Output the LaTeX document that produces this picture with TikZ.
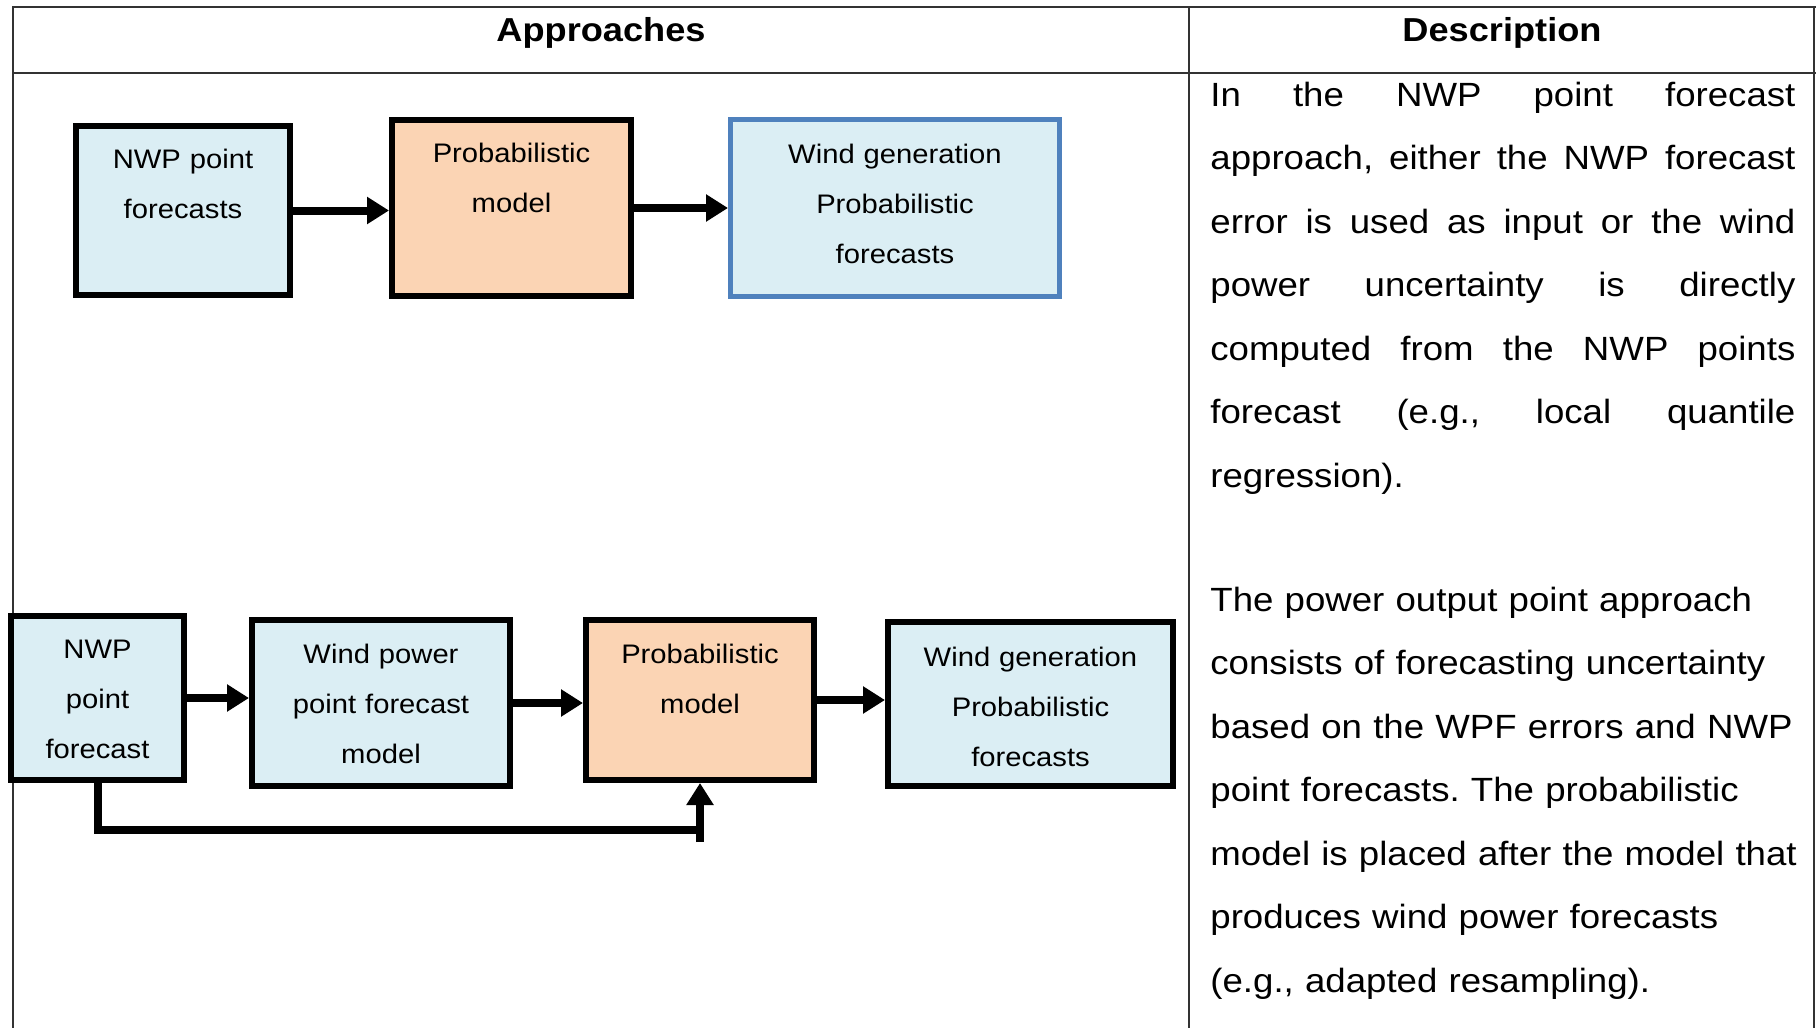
\documentclass[tikz,border=0pt]{standalone}
\usepackage{fontspec}
\setmainfont[FakeStretch=1.09]{Liberation Sans}
\usepackage{tikz}
\usetikzlibrary{arrows.meta,positioning}
\definecolor{boxblue}{HTML}{DBEEF4}
\definecolor{boxpeach}{HTML}{FBD4B4}
\definecolor{edgeblue}{HTML}{4F81BD}

\begin{document}
\begin{tikzpicture}[x=0.5pt,y=-0.5pt,
    grid/.style={line width=1pt,black!80},
    blk/.style={draw,line width=3pt,inner sep=0pt},
    lbl/.style={inner sep=0pt,anchor=base,text width=160pt,align=center,font=\fontsize{13.4}{25}\selectfont},
    head/.style={inner sep=0pt,anchor=base,font=\fontsize{16.6}{20}\selectfont\bfseries},
    desc/.style={inner sep=0pt,anchor=base west,text width=292.5pt,font=\fontsize{16.8}{31.75}\selectfont\frenchspacing},
    link/.style={line width=4pt},
    flow/.style={line width=4pt,-{Triangle[length=11pt,width=13pt]}}]
\useasboundingbox (0,0) rectangle (1816,1028);

    % table frame
    \draw[grid] (13,1028) -- (13,7) -- (1816,7);
    \draw[grid] (13,73) -- (1816,73);
    \draw[grid] (1189,7) -- (1189,1028);
    \draw[grid] (1814,7) -- (1814,1028);
    \node[head] (approaches) at (601,41) {Approaches};
    \node[head] (description) at (1502,41) {Description};

    % first approach
    \node[blk,fill=boxblue,minimum width=107pt,minimum height=84.5pt] (nwp1) at (183,210.5) {};
    \node[blk,fill=boxpeach,minimum width=119.5pt,minimum height=88pt] (prob1) at (511.5,208) {};
    \node[draw=edgeblue,line width=2.5pt,inner sep=0pt,fill=boxblue,minimum width=164.5pt,minimum height=88.5pt] (wind1) at (895,208) {};
    \node[lbl] (nwp1txt) at ([yshift=-22.8pt]nwp1.north) {NWP point\\forecasts};
    \node[lbl] (prob1txt) at ([yshift=-22.8pt]prob1.north) {Probabilistic\\model};
    \node[lbl] (wind1txt) at ([yshift=-23pt]wind1.north) {Wind generation\\Probabilistic\\forecasts};
    \draw[flow] (nwp1.east) -- (nwp1.east -| prob1.west);
    \draw[flow] (prob1.east) -- (prob1.east -| wind1.west);

    % second approach
    \node[blk,fill=boxblue,minimum width=86.5pt,minimum height=82pt] (nwp2) at (97.5,698) {};
    \node[blk,fill=boxblue,minimum width=129pt,minimum height=83pt] (wpp2) at (381,703) {};
    \node[blk,fill=boxpeach,minimum width=114pt,minimum height=80pt] (prob2) at (700,700) {};
    \node[blk,fill=boxblue,minimum width=142.5pt,minimum height=82pt] (wind2) at (1030.5,704) {};
    \node[lbl] (nwp2txt) at ([yshift=-22.8pt]nwp2.north) {NWP\\point\\forecast};
    \node[lbl] (wpp2txt) at ([yshift=-23.3pt]wpp2.north) {Wind power\\point forecast\\model};
    \node[lbl] (prob2txt) at ([yshift=-23.3pt]prob2.north) {Probabilistic\\model};
    \node[lbl] (wind2txt) at ([yshift=-23.8pt]wind2.north) {Wind generation\\Probabilistic\\forecasts};
    \foreach \from/\to in {nwp2/wpp2,wpp2/prob2,prob2/wind2}
        \draw[flow] (\from.east) -- (\from.east -| \to.west);
    \coordinate (fb2) at (700,842);
    \draw[link] (nwp2.south) |- (fb2 |- 0,830);
    \draw[flow] (fb2) -- (prob2.south);

    % descriptions
    \node[desc,align=justify] (desc1) at (1210,106) {In the NWP point forecast\linebreak
        approach, either the NWP forecast\linebreak
        error is used as input or the wind\linebreak
        power uncertainty is directly\linebreak
        computed from the NWP points\linebreak
        forecast (e.g., local quantile\linebreak
        regression).};
    \node[desc,align=left,text width=310pt] (desc2) at (1210,611) {The power output point approach\\
        consists of forecasting uncertainty\\
        based on the WPF errors and NWP\\
        point forecasts. The probabilistic\\
        model is placed after the model that\\
        produces wind power forecasts\\
        (e.g., adapted resampling).};
\end{tikzpicture}
\end{document}
